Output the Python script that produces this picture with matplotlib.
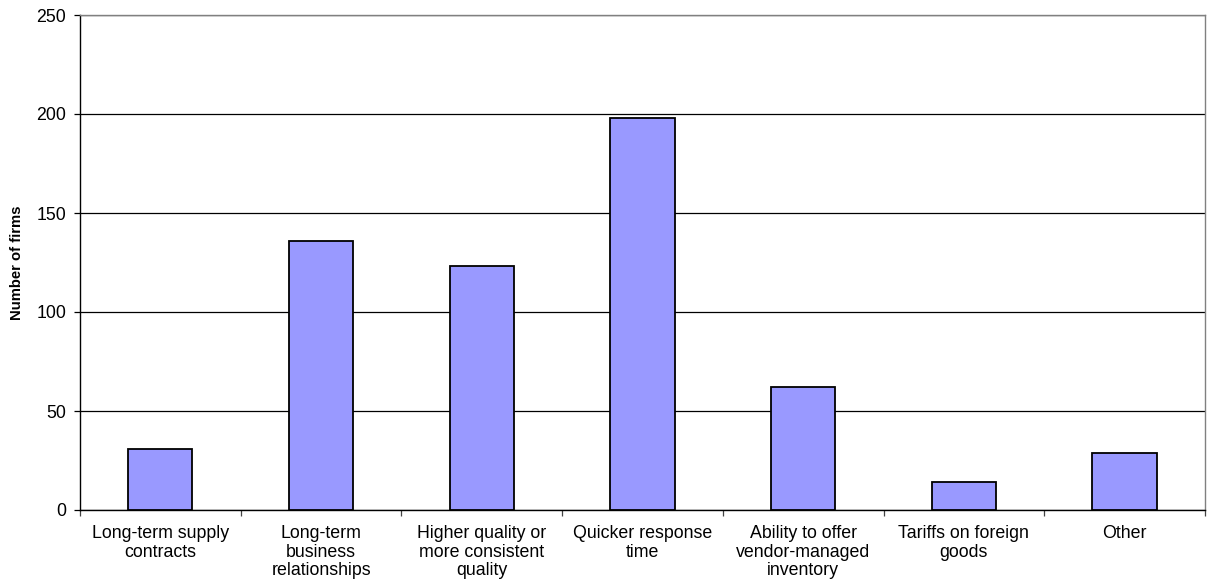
import matplotlib.pyplot as plt
import numpy as np

plt.rcParams['font.family'] = ['Liberation Sans', 'DejaVu Sans']

categories = [
    "Long-term supply\ncontracts",
    "Long-term\nbusiness\nrelationships",
    "Higher quality or\nmore consistent\nquality",
    "Quicker response\ntime",
    "Ability to offer\nvendor-managed\ninventory",
    "Tariffs on foreign\ngoods",
    "Other",
]
firms = [31, 136, 123, 198, 62, 14, 29]
y_ticks = [0, 50, 100, 150, 200, 250]

fig = plt.figure(figsize=(12.07, 5.8), dpi=100)
ax = fig.add_axes([80 / 1207, 70 / 580, 1125 / 1207, 495 / 580])

x = np.arange(len(categories))
ax.bar(x, firms, width=0.4, color='#9999ff', edgecolor='black', linewidth=1.3, zorder=3)

ax.set_xlim(-0.5, len(categories) - 0.5)
ax.set_ylim(0, 250)
ax.set_yticks(y_ticks)
ax.yaxis.grid(True, color='black', linewidth=0.9, zorder=0)

ax.set_xticks(x)
ax.set_xticklabels(categories, fontsize=12.8, linespacing=1.12)
ax.set_xticks(np.arange(len(categories) + 1) - 0.5, minor=True)
ax.tick_params(axis='x', which='major', length=0, pad=11)
ax.tick_params(axis='x', which='minor', length=4, width=0.9, color='#444444', direction='out')
ax.tick_params(axis='y', length=4, width=0.9, pad=6, labelsize=12.8)

for s in ['top', 'right']:
    ax.spines[s].set_color('#808080')
    ax.spines[s].set_linewidth(1.0)
for s in ['left', 'bottom']:
    ax.spines[s].set_color('black')
    ax.spines[s].set_linewidth(1.0)

ax.set_ylabel("Number of firms", fontsize=10.7, fontweight='bold', labelpad=9)

fig.savefig('out.png', dpi=100)
